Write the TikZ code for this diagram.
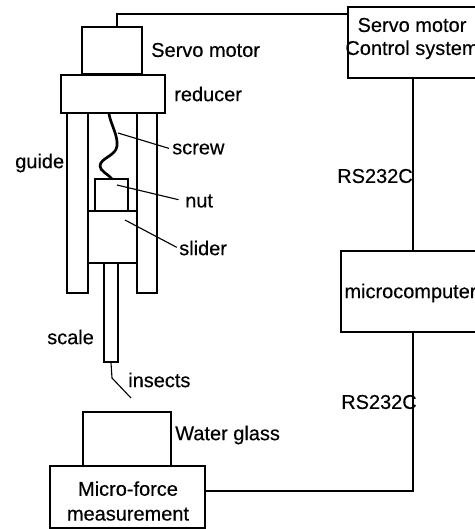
\documentclass[tikz,border=0pt]{standalone}
\usepackage{fontspec}
\setmainfont{Liberation Sans}[BoldFont={Liberation Sans},BoldFeatures={FakeBold=0.35}]
\usepackage{tikz}
\usetikzlibrary{positioning}

\begin{document}
\begin{tikzpicture}[
		x=0.025cm, y=-0.025cm,
		line width=1.8pt,
		font=\fontsize{14.2}{17}\selectfont\bfseries,
		box/.style 2 args={draw, rectangle, inner sep=0pt, minimum width=#1*0.025cm, minimum height=#2*0.025cm},
		thinbox/.style 2 args={box={#1}{#2}, line width=0.9pt},
		wire/.style={draw, line width=1.8pt},
		lead/.style={draw, line width=0.8pt},
		lbl/.style={inner sep=0pt, anchor=west},
		inbox/.style={inner sep=0pt, align=center}
	]

	\clip (0,0) rectangle (475,529);
	\fill[white] (0,0) rectangle (475,529);

	%% 1. Guide rails and drive column
	\node[box={21}{180}] (guideL) at (77.5,203) {};
	\node[box={20}{180}] (guideR) at (147,203) {};
	\node[box={60}{47}] (motor) at (112,50.5) {};
	\node[box={104}{38}, fill=white] (reducer) at (113,94) {};
	\node[box={33}{32}] (nut) at (111.5,195) {};
	\node[box={49}{52}] (slider) at (112.5,237) {};
	\node[thinbox={14}{99}] (rod) at (111,312.5) {};

	%% Screw between reducer and nut
	\draw[line width=1.9pt] (109,114)
		.. controls (111,125) and (118,135) .. (117,146)
		.. controls (116,156) and (100,158) .. (100,166)
		.. controls (100,171) and (108,174) .. (112,179);

	%% Insect probe
	\coordinate (probeKnee) at (112,378);
	\coordinate (probeEnd) at (131,398);
	\draw[lead] (rod.south) -- (probeKnee) -- (probeEnd);

	%% 2. Right hand boxes
	\node[box={130}{71}] (ctrl) at (413,42.5) {};
	\node[box={144}{81}] (micro) at (413,291.5) {};
	\node[inbox] (ctrlText) at (412,38.5) {Servo motor\\[-0.6pt]Control system};
	\node[inbox] (microText) at (410.5,293) {microcomputer};

	%% 3. Water glass and force sensor
	\node[box={88}{54}] (glass) at (127,439) {};
	\node[box={155}{62}] (force) at (127.5,497) {};
	\node[inbox] (forceText) at (128,501) {Micro-force\\[0.6pt]measurement};

	%% 4. Signal lines
	\coordinate (motorTap) at (117,27);
	\coordinate (forceTap) at (205,491);
	\draw[wire] (motorTap) |- (ctrl.west |- 0,14);
	\draw[wire] (ctrl.south) -- (micro.north);
	\draw[wire] (micro.south) |- (forceTap);

	%% 5. Labels
	\node[lbl] (motorLbl) at (150,50) {Servo motor};
	\node[lbl] (reducerLbl) at (173,94) {reducer};
	\node[lbl] (guideLbl) at (14,163) {guide};
	\node[lbl] (screwLbl) at (171,149) {screw};
	\node[lbl] (nutLbl) at (184,201) {nut};
	\node[lbl] (sliderLbl) at (178,248) {slider};
	\node[lbl] (scaleLbl) at (46,337) {scale};
	\node[lbl] (insectsLbl) at (127,380) {insects};
	\node[lbl] (glassLbl) at (174,435) {Water glass};
	\node[lbl] (rsTop) at (336,176) {RS232C};
	\node[lbl] (rsBottom) at (340,402) {RS232C};

	%% Leader lines to labels
	\coordinate (screwTip) at (118,133);
	\coordinate (nutTip) at (117,185);
	\coordinate (sliderTip) at (125,220);
	\draw[lead, shorten >=1.5pt] (screwTip) -- (screwLbl.west);
	\draw[lead, shorten >=4pt] (nutTip) -- (nutLbl.west);
	\draw[lead, shorten >=1pt] (sliderTip) -- (sliderLbl.west);

\end{tikzpicture}
\end{document}
